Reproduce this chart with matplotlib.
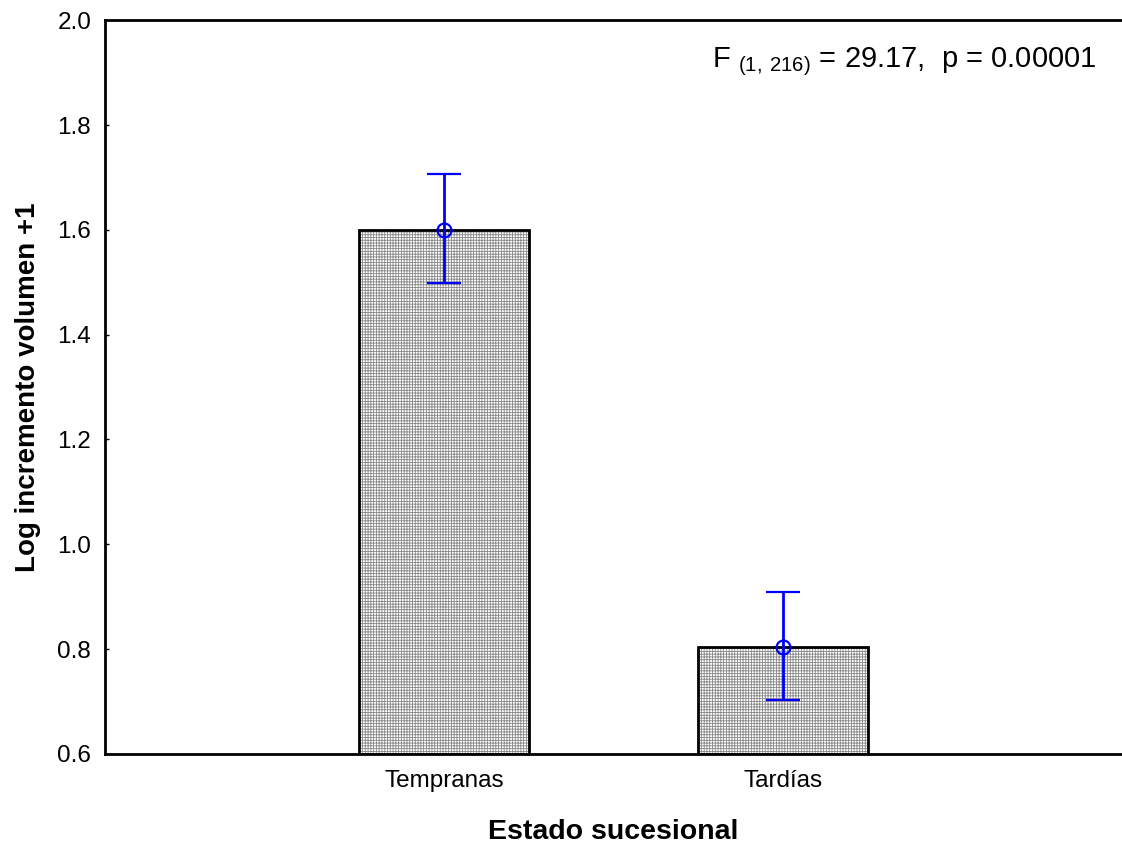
import matplotlib
matplotlib.use("Agg")
import matplotlib.pyplot as plt
import numpy as np

# Data
categories = ["Tempranas", "Tardías"]
means = [1.60, 0.803]
upper = [1.707, 0.908]
lower = [1.498, 0.703]
yticks = [0.6, 0.8, 1.0, 1.2, 1.4, 1.6, 1.8, 2.0]

plt.rcParams["font.family"] = ["Liberation Sans", "DejaVu Sans"]
plt.rcParams["mathtext.fontset"] = "custom"
plt.rcParams["mathtext.rm"] = "Liberation Sans"
plt.rcParams["hatch.linewidth"] = 0.6

fig = plt.figure(figsize=(11.22, 8.47), dpi=100)
ax = fig.add_axes([0.0936, 0.110, 0.9064, 0.866])

x = np.arange(1, len(categories) + 1)
heights = [m - 0.6 for m in means]
# fine grey grid fill (hatch takes the patch edge colour)
ax.bar(x, heights, bottom=0.6, width=0.5,
       facecolor="white", edgecolor="#888888", linewidth=0, hatch="++++++", zorder=2)
# black outline
ax.bar(x, heights, bottom=0.6, width=0.5,
       facecolor="none", edgecolor="black", linewidth=2, zorder=3)

err = [np.array(means) - np.array(lower), np.array(upper) - np.array(means)]
ax.errorbar(x, means, yerr=err, fmt="o", color="#0000ff", ecolor="#0000ff",
            mfc="none", mec="#0000ff", ms=10, mew=1.6, elinewidth=2,
            capsize=12, capthick=2, zorder=4)

ax.set_xlim(0, 3)
ax.set_ylim(0.6, 2.0)
ax.set_xticks(x)
ax.set_xticklabels(categories)
ax.set_yticks(yticks)
ax.set_yticklabels([f"{t:.1f}" for t in yticks])
ax.tick_params(axis="both", direction="in", length=3, width=1, labelsize=17.5)
ax.tick_params(axis="x", pad=12)
ax.tick_params(axis="y", pad=10)

ax.spines["right"].set_visible(False)
for side in ["left", "top", "bottom"]:
    ax.spines[side].set_linewidth(2)

ax.set_xlabel("Estado sucesional", fontsize=20.5, fontweight="bold", labelpad=19)
ax.set_ylabel("Log incremento volumen +1", fontsize=20, fontweight="bold", labelpad=12)

ax.text(0.597, 0.936, r"F $_{\mathrm{(1,\,216)}}$ = 29.17,  p = 0.00001",
        transform=ax.transAxes, fontsize=21, ha="left", va="baseline")

fig.savefig("out.png", dpi=100)
